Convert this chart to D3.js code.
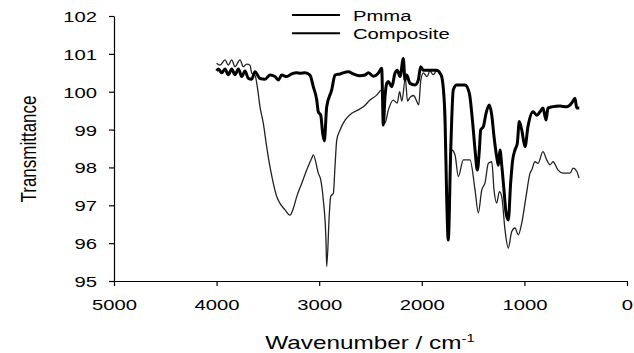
<!DOCTYPE html>
<html><head><meta charset="utf-8">
<script src="https://cdn.jsdelivr.net/npm/d3@7/dist/d3.min.js"></script>
<style>
html,body{margin:0;padding:0;background:#fff;}
svg{display:block;font-family:"Liberation Sans",Arial,sans-serif;}
</style></head>
<body><svg id="c" width="634" height="353"></svg>
<script>
const xTicks = [5000, 4000, 3000, 2000, 1000, 0];
const yTicks = [95, 96, 97, 98, 99, 100, 101, 102];
const seriesNames = ["Pmma", "Composite"];

const pmmaWn = [4000,3983,3950,3918,3886,3853,3821,3788,3755,3723,3691,3658,3626,3577,3528,3480,3431,3399,3365,3317,3268,3219,3187,3138,3090,3057,3024,3009,2985,2966,2950,2927,2878,2846,2797,2716,2667,2602,2553,2521,2473,2424,2391,2375,2359,2342,2326,2293,2261,2239,2212,2180,2164,2147,2115,2066,2034,2011,1985,1920,1855,1822,1806,1784,1774,1757,1742,1718,1693,1660,1579,1537,1504,1481,1459,1439,1426,1400,1374,1342,1318,1296,1270,1254,1238,1221,1199,1179,1157,1134,1114,1092,1069,1050,1026,994,965,916,880,848,819,789,770,734,653,588,539,507,490,465];
const pmmaT = [100.55,100.6,100.5,100.6,100.45,100.6,100.45,100.6,100.4,100.55,100.35,100.33,100.53,100.35,100.33,100.44,100.4,100.31,100.44,100.4,100.47,100.5,100.49,100.5,100.44,100.13,99.78,99.47,99.38,98.9,98.7,99.6,100.05,100.44,100.47,100.53,100.47,100.42,100.44,100.5,100.41,100.49,100.62,99.12,99.85,100.22,100.27,100.13,100.49,100.57,100.4,100.88,100.31,100.44,100.22,100.18,100.31,100.66,100.57,100.57,100.57,100.49,100.4,99.87,99.34,97.14,96.08,98.46,100.05,100.18,100.18,99.96,99.17,98.46,97.93,98.46,98.99,99.08,99.43,99.65,99.38,98.81,98.28,98.06,98.46,98.06,97.4,96.8,96.61,97.59,98.2,98.46,98.64,99.21,98.99,98.55,99.08,99.47,99.38,99.47,99.57,99.25,99.57,99.6,99.62,99.6,99.7,99.83,99.57,99.57];

const compWn = [4000,3967,3918,3886,3853,3821,3772,3740,3707,3674,3658,3626,3603,3577,3545,3512,3480,3447,3414,3382,3333,3285,3252,3219,3170,3122,3073,3057,3009,2985,2960,2934,2927,2901,2888,2862,2846,2829,2797,2748,2683,2619,2570,2505,2440,2391,2375,2359,2326,2278,2240,2216,2195,2160,2140,2115,2080,2050,2030,2010,1985,1950,1920,1890,1855,1820,1800,1784,1770,1757,1742,1730,1709,1676,1644,1595,1530,1481,1449,1416,1384,1351,1318,1296,1270,1244,1221,1189,1157,1124,1092,1059,1026,984,945,929,897,867,819,783,750,721,672,624,555,526,490,468];
const compT = [100.75,100.7,100.84,100.7,100.84,100.66,100.84,100.66,100.73,100.7,100.49,100.44,100.13,99.6,99.17,98.55,98.02,97.58,97.23,97.05,96.88,96.74,96.92,97.23,97.58,97.93,98.24,98.33,97.85,97.67,97.14,96.08,95.38,96.79,97.23,97.32,98.02,98.72,98.99,99.25,99.43,99.52,99.6,99.78,99.91,100.05,99.5,99.17,99.52,99.78,99.7,100.0,99.75,100.35,99.75,99.85,99.9,99.75,99.65,100.3,100.5,100.4,100.55,100.45,100.55,100.45,100.35,99.7,98.5,97.2,96.1,97.2,98.46,98.33,97.76,98.2,98.2,97.4,96.8,97.4,97.59,98.11,98.15,97.4,97.06,97.36,97.23,96.35,95.87,96.3,96.4,96.22,96.53,97.23,97.85,97.93,98.15,98.11,98.42,98.2,98.07,98.15,97.93,97.85,97.85,97.98,97.9,97.72];

const SX = 1.35; // horizontal stretch of the reference's text
const svg = d3.select("#c");
const mLeft = 114, mRight = 627, mTop = 16, mBottom = 281;
const x = d3.scaleLinear().domain([5000, 0]).range([mLeft, mRight]);
const y = d3.scaleLinear().domain([95, 102]).range([mBottom, mTop]);

const line = d3.line().x(d => x(d[0])).y(d => y(d[1])).curve(d3.curveMonotoneX);
const pmma = pmmaWn.map((w, i) => [w, pmmaT[i]]);
const comp = compWn.map((w, i) => [w, compT[i]]);

svg.append("path").attr("d", line(comp)).attr("fill", "none")
  .attr("stroke", "#222").attr("stroke-width", 1.3);
svg.append("path").attr("d", line(pmma)).attr("fill", "none")
  .attr("stroke", "#000").attr("stroke-width", 3).attr("stroke-linejoin", "round");

// axes
const xAxis = svg.append("g").attr("transform", `translate(0,${mBottom})`)
  .call(d3.axisBottom(x).tickValues(xTicks).tickSize(5).tickSizeOuter(0).tickFormat(d3.format("d")));
const yAxis = svg.append("g").attr("transform", `translate(${mLeft},0)`)
  .call(d3.axisLeft(y).tickValues(yTicks).tickSize(5).tickSizeOuter(0).tickFormat(d3.format("d")));
[xAxis, yAxis].forEach(g => {
  g.select(".domain").attr("stroke", "#000").attr("stroke-width", 1.2);
  g.selectAll(".tick line").attr("stroke", "#000").attr("stroke-width", 1.2);
  g.selectAll(".tick text").attr("fill", "#000").attr("font-size", 15)
    .attr("font-family", "Liberation Sans, Arial, sans-serif");
});
xAxis.selectAll(".tick text").attr("y", 0).attr("dy", 0)
  .attr("transform", `translate(0,29) scale(${SX},1)`);
yAxis.selectAll(".tick text").attr("x", 0).attr("dy", 0)
  .attr("transform", `translate(-17,5.5) scale(${SX},1)`);

// axis titles
const xt = svg.append("text").attr("transform", `translate(370,349) scale(${SX},1)`)
  .attr("text-anchor", "middle").attr("font-size", 18).attr("fill", "#000");
xt.append("tspan").text("Wavenumber / cm");
xt.append("tspan").attr("dy", -7).attr("font-size", 11).text("-1");

svg.append("text").attr("transform", `translate(36,149) scale(${SX},1) rotate(-90)`)
  .attr("text-anchor", "middle").attr("font-size", 17).attr("fill", "#000")
  .text("Transmittance");

// legend
const leg = svg.append("g");
seriesNames.forEach((name, i) => {
  const ly = 15 + i * 18.3;
  leg.append("line").attr("x1", 292).attr("x2", 340).attr("y1", ly).attr("y2", ly)
    .attr("stroke", "#000").attr("stroke-width", 2);
  leg.append("text").attr("transform", `translate(353,${ly + 5.8}) scale(${SX},1)`)
    .attr("font-size", 15).attr("fill", "#000").text(name);
});
</script></body></html>
